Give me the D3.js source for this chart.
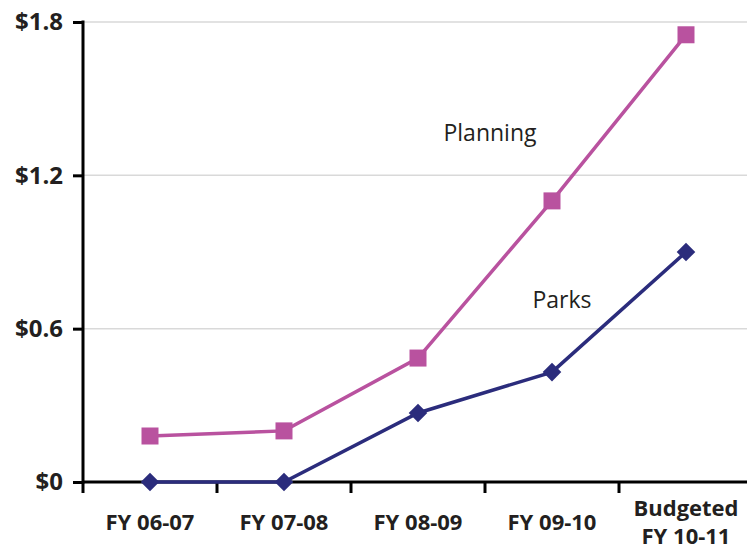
<!DOCTYPE html>
<html>
<head>
<meta charset="utf-8">
<script src="https://cdn.jsdelivr.net/npm/d3@7"></script>
<style>
  html, body { margin: 0; background: #fff; }
  svg { display: block; }
  text { font-family: "Open Sans", "Noto Sans", sans-serif; fill: #231f20; }
</style>
</head>
<body>
<div id="chart"></div>
<script>
// data
var years = ["FY 06-07", "FY 07-08", "FY 08-09", "FY 09-10", "Budgeted|FY 10-11"];
var planning = [0.18, 0.20, 0.485, 1.10, 1.75];
var parks = [0, 0, 0.27, 0.43, 0.90];
var yTicks = [0, 0.6, 1.2, 1.8];
var yLabels = ["$0", "$0.6", "$1.2", "$1.8"];

var width = 747, height = 550;
var margin = {top: 22, right: -6, bottom: 68, left: 83};

var svg = d3.select("#chart").append("svg")
    .attr("width", width)
    .attr("height", height);

var x = d3.scaleBand()
    .domain(years)
    .range([margin.left, width - margin.right]);

var y = d3.scaleLinear()
    .domain([0, 1.8])
    .range([height - margin.bottom, margin.top]);

// gridlines
svg.append("g").selectAll("line")
    .data(yTicks.filter(function(d) { return d > 0; }))
    .enter().append("line")
    .attr("x1", margin.left).attr("x2", width)
    .attr("y1", function(d) { return y(d); })
    .attr("y2", function(d) { return y(d); })
    .style("stroke", "#d9d9d9")
    .style("stroke-width", 1.5);

// y axis
var yAxis = svg.append("g")
    .attr("transform", "translate(" + margin.left + ",0)")
    .call(d3.axisLeft(y).tickValues(yTicks)
        .tickFormat(function(d, i) { return yLabels[i]; })
        .tickSize(10).tickPadding(10));
yAxis.select(".domain").remove();
yAxis.selectAll(".tick line").style("stroke", "#000").style("stroke-width", 3);
yAxis.selectAll("text")
    .style("font-size", "24px").style("font-weight", "bold")
    .style("fill", "#231f20");
yAxis.append("line")
    .attr("x1", 0).attr("x2", 0)
    .attr("y1", y(1.8) - 1.5).attr("y2", y(0) + 1.5)
    .style("stroke", "#000").style("stroke-width", 3);

// x axis
var xg = svg.append("g");
xg.append("line")
    .attr("x1", margin.left).attr("x2", width)
    .attr("y1", y(0)).attr("y2", y(0))
    .style("stroke", "#000").style("stroke-width", 3);
var bounds = years.map(function(d) { return x(d); });
xg.selectAll(".xt").data(bounds).enter().append("line")
    .attr("x1", function(d) { return d; }).attr("x2", function(d) { return d; })
    .attr("y1", y(0)).attr("y2", y(0) + 11)
    .style("stroke", "#000").style("stroke-width", 3);

var xl = xg.selectAll(".xl").data(years).enter().append("text")
    .attr("text-anchor", "middle")
    .attr("x", function(d) { return x(d) + x.bandwidth() / 2; })
    .style("font-size", "22px").style("font-weight", "bold");
xl.each(function(d) {
    var parts = d.split("|");
    var t = d3.select(this);
    var y0 = parts.length > 1 ? 516 : 530;
    parts.forEach(function(p, i) {
        t.append("tspan").attr("x", t.attr("x")).attr("y", y0 + i * 28).text(p);
    });
});

var cx = function(d, i) { return x(years[i]) + x.bandwidth() / 2; };

var line = d3.line()
    .x(cx)
    .y(function(d) { return y(d); });

// Planning
svg.append("path").datum(planning)
    .attr("d", line)
    .style("fill", "none").style("stroke", "#b9529f").style("stroke-width", 3.5);
svg.selectAll(".sq").data(planning).enter().append("rect")
    .attr("x", function(d, i) { return cx(d, i) - 8.5; })
    .attr("y", function(d) { return y(d) - 8.5; })
    .attr("width", 17).attr("height", 17)
    .style("fill", "#b9529f");

// Parks
svg.append("path").datum(parks)
    .attr("d", line)
    .style("fill", "none").style("stroke", "#2b2c7c").style("stroke-width", 3.5);
svg.selectAll(".dm").data(parks).enter().append("path")
    .attr("d", d3.symbol().type(d3.symbolDiamond2).size(220))
    .attr("transform", function(d, i) { return "translate(" + cx(d, i) + "," + y(d) + ")"; })
    .style("fill", "#2b2c7c");

// series labels
svg.append("text").attr("x", 490).attr("y", 141)
    .attr("text-anchor", "middle").style("font-size", "23px").text("Planning");
svg.append("text").attr("x", 562).attr("y", 308)
    .attr("text-anchor", "middle").style("font-size", "23px").text("Parks");
</script>
</body>
</html>
